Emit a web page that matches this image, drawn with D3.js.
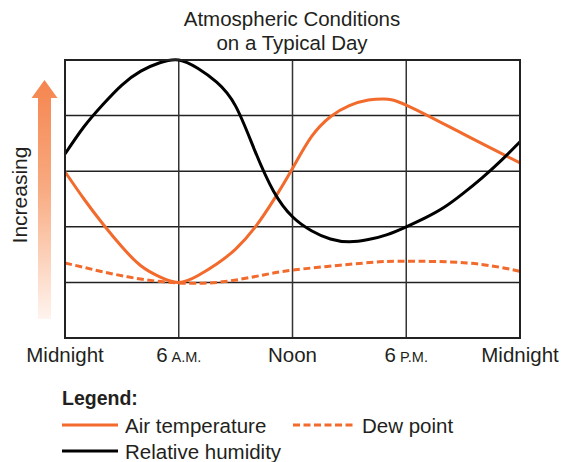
<!DOCTYPE html>
<html>
<head>
<meta charset="utf-8">
<script src="https://cdn.jsdelivr.net/npm/d3@7"></script>
<style>
  html, body { margin: 0; padding: 0; background: #fff; }
  svg { display: block; font-family: "Liberation Sans", Arial, Helvetica, sans-serif; }
</style>
</head>
<body>
<svg id="chart" width="566" height="462"></svg>
<script>
// ---- Data (hours since midnight, values in grid units 0..5) ----
const xTickHours = [0, 6, 12, 18, 24];
const xTickMain = ["Midnight", "6", "Noon", "6", "Midnight"];
const xTickSmall = ["", "A.M.", "", "P.M.", ""];
const yGridLevels = [0, 1, 2, 3, 4, 5];

const tempHours   = [0, 1, 2, 3, 4, 5, 6, 7, 8, 9, 10, 11, 12, 13, 14, 15, 16, 16.8, 18, 21, 24];
const tempValues  = [2.99, 2.50, 2.05, 1.64, 1.30, 1.10, 1.0, 1.12, 1.33, 1.60, 1.98, 2.48, 3.05, 3.62, 3.98, 4.18, 4.28, 4.30, 4.19, 3.67, 3.15];

const dewHours    = [0, 3.3, 6, 8.3, 10.4, 12, 14.5, 16.6, 18, 21.2, 24];
const dewValues   = [1.35, 1.10, 0.99, 1.01, 1.13, 1.22, 1.31, 1.37, 1.38, 1.35, 1.20];

const rhHours     = [0, 1, 2, 3, 4, 5, 6, 7, 8, 9, 10, 11, 12, 13, 14, 15, 16, 17, 18, 19, 20, 21, 22, 23, 24];
const rhValues    = [3.31, 3.80, 4.20, 4.55, 4.80, 4.95, 5.0, 4.85, 4.60, 4.17, 3.38, 2.64, 2.18, 1.93, 1.78, 1.73, 1.77, 1.86, 2.0, 2.16, 2.35, 2.60, 2.88, 3.19, 3.53];

const legendLabels = ["Air temperature", "Dew point", "Relative humidity"];
const titleLines = ["Atmospheric Conditions", "on a Typical Day"];
const axisLabel = "Increasing";

// ---- Layout ----
const svg = d3.select("#chart");
const W = 566, H = 462;
const margin = { top: 60, right: 46, bottom: 124, left: 65 };
const orange = "#f26a2c";
const textColor = "#231f20";

const x = d3.scaleLinear().domain([0, 24]).range([margin.left, W - margin.right]);
const y = d3.scaleLinear().domain([0, 5]).range([H - margin.bottom, margin.top]);

// Title
svg.append("g").selectAll("text").data(titleLines).join("text")
  .attr("x", 292).attr("y", (d, i) => 26 + i * 24)
  .attr("text-anchor", "middle").attr("font-size", 20.5).attr("fill", textColor)
  .text(d => d);

// Grid
const grid = svg.append("g");
grid.selectAll("line.h").data(yGridLevels.slice(1, -1)).join("line")
  .attr("x1", x(0)).attr("x2", x(24)).attr("y1", d => y(d)).attr("y2", d => y(d))
  .attr("stroke", "#222").attr("stroke-width", 1.5);
grid.selectAll("line.v").data(xTickHours.slice(1, -1)).join("line")
  .attr("y1", y(0)).attr("y2", y(5)).attr("x1", d => x(d)).attr("x2", d => x(d))
  .attr("stroke", "#333").attr("stroke-width", 1.5);

// Lines
const line = d3.line().curve(d3.curveNatural).x(d => x(d[0])).y(d => y(d[1]));
const plot = svg.append("g");
plot.append("path").datum(d3.zip(dewHours, dewValues))
  .attr("d", line).attr("fill", "none").attr("stroke", orange)
  .attr("stroke-width", 3).attr("stroke-dasharray", "7,3.5");
plot.append("path").datum(d3.zip(tempHours, tempValues))
  .attr("d", line).attr("fill", "none").attr("stroke", orange).attr("stroke-width", 3);
plot.append("path").datum(d3.zip(rhHours, rhValues))
  .attr("d", line).attr("fill", "none").attr("stroke", "#000").attr("stroke-width", 3);

// Frame
svg.append("rect").attr("x", x(0)).attr("y", y(5))
  .attr("width", x(24) - x(0)).attr("height", y(0) - y(5))
  .attr("fill", "none").attr("stroke", "#222").attr("stroke-width", 2);

// X labels
const xl = svg.append("g").selectAll("text").data(xTickHours).join("text")
  .attr("x", d => x(d)).attr("y", 362).attr("text-anchor", "middle")
  .attr("font-size", 20.5).attr("fill", textColor);
xl.append("tspan").text((d, i) => xTickMain[i]);
xl.append("tspan").attr("font-size", 14.5)
  .text((d, i) => xTickSmall[i] ? "\u00a0" : "");
xl.append("tspan").attr("font-size", 14.5).text((d, i) => xTickSmall[i]);

// Increasing arrow with gradient
const defs = svg.append("defs");
const grad = defs.append("linearGradient").attr("id", "arrowGrad")
  .attr("x1", 0).attr("y1", 0).attr("x2", 0).attr("y2", 1);
grad.append("stop").attr("offset", "0%").attr("stop-color", "#f5854f");
grad.append("stop").attr("offset", "45%").attr("stop-color", "#f8aa80");
grad.append("stop").attr("offset", "100%").attr("stop-color", "#fff4ee");
const ax = 44.5, tipY = 80, headY = 98, baseY = 319, shaftHalf = 6.5, headHalf = 13;
svg.append("path")
  .attr("d", `M${ax},${tipY} L${ax + headHalf},${headY} L${ax + shaftHalf},${headY} L${ax + shaftHalf},${baseY} L${ax - shaftHalf},${baseY} L${ax - shaftHalf},${headY} L${ax - headHalf},${headY} Z`)
  .attr("fill", "url(#arrowGrad)");
svg.append("text").attr("transform", "translate(27,195) rotate(-90)")
  .attr("text-anchor", "middle").attr("font-size", 21).attr("fill", textColor)
  .text(axisLabel);

// Legend
const lg = svg.append("g");
lg.append("text").attr("x", 62).attr("y", 405).attr("font-size", 19.5)
  .attr("font-weight", "bold").attr("fill", textColor).text("Legend:");
const legendItems = [
  { label: legendLabels[0], x: 62, y: 425, color: orange, dash: null, w: 56 },
  { label: legendLabels[1], x: 293, y: 425, color: orange, dash: "7,3.5", w: 62 },
  { label: legendLabels[2], x: 62, y: 451, color: "#000", dash: null, w: 56 }
];
legendItems.forEach(it => {
  lg.append("line").attr("x1", it.x).attr("x2", it.x + it.w)
    .attr("y1", it.y).attr("y2", it.y).attr("stroke", it.color).attr("stroke-width", 3)
    .attr("stroke-dasharray", it.dash);
  lg.append("text").attr("x", it.x + it.w + 7).attr("y", it.y + 7.5)
    .attr("font-size", 20.5).attr("fill", textColor).text(it.label);
});
</script>
</body>
</html>
